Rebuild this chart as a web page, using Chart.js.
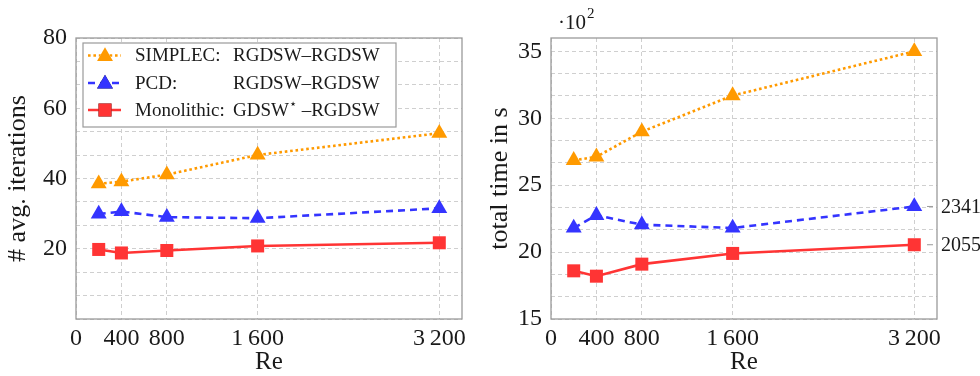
<!DOCTYPE html>
<html>
<head>
<meta charset="utf-8">
<script src="https://cdn.jsdelivr.net/npm/chart.js@4"></script>
<style>
  body { margin: 0; background: #fff; }
  .box { position: absolute; top: 0; width: 490px; height: 376px; }
</style>
</head>
<body>
<div class="box" style="left:0"><canvas id="iterChart" width="490" height="376"></canvas></div>
<div class="box" style="left:490px"><canvas id="timeChart" width="490" height="376"></canvas></div>
<script>
// Re values
const reValues = [200, 400, 800, 1600, 3200];
const xTicks = [0, 400, 800, 1600, 3200];
const xTickLabels = ["0", "400", "800", "1\u2009600", "3\u2009200"];

// average iterations
const simplecIter = [38.5, 39.1, 41.1, 46.7, 52.9];
const pcdIter = [29.9, 30.6, 29.0, 28.7, 31.5];
const monoIter = [19.8, 18.8, 19.5, 20.8, 21.7];

// total time in s
const simplecTime = [2686, 2712, 2900, 3170, 3500];
const pcdTime = [2180, 2275, 2205, 2180, 2341];
const monoTime = [1860, 1820, 1910, 1990, 2055];

const iterYLabels = [20, 40, 60, 80];
const timeYLabels = [15, 20, 25, 30, 35];   // in 10^2 s
const timeMarked = [2341, 2055];

const legendNames = ["SIMPLEC:", "PCD:", "Monolithic:"];
const legendSolvers = ["RGDSW\u2013RGDSW", "RGDSW\u2013RGDSW", "GDSW^\u22C6 \u2013RGDSW"];

const ORANGE = "#ff9a00";
const BLUE = "#3434ff";
const RED = "#ff3434";
const SERIF = "'Liberation Serif', 'DejaVu Serif', serif";

Chart.defaults.font.family = SERIF;
Chart.defaults.color = "#1a1a1a";

function makeDatasets(a, b, c) {
    return [
        { label: legendNames[0], data: a, borderColor: ORANGE, backgroundColor: ORANGE,
          borderDash: [2.6, 2.8], borderWidth: 2.6,
          pointStyle: "triangle", pointRadius: 9.2, pointBorderWidth: 0, pointBackgroundColor: ORANGE },
        { label: legendNames[1], data: b, borderColor: BLUE, backgroundColor: BLUE,
          borderDash: [7, 5], borderWidth: 2.6,
          pointStyle: "triangle", pointRadius: 9.2, pointBorderWidth: 0, pointBackgroundColor: BLUE },
        { label: legendNames[2], data: c, borderColor: RED, backgroundColor: RED,
          borderWidth: 2.6,
          pointStyle: "rect", pointRadius: 9.2, pointBorderWidth: 0, pointBackgroundColor: RED }
    ];
}

function gridTicks(min, max, step) {
    const out = [];
    for (let v = min; v <= max + 1e-9; v += step) out.push({ value: v });
    return out;
}

function labelFrom(list) {
    return (v) => {
        const hit = list.find(l => Math.abs(l - v) < 1e-6);
        return hit === undefined ? "" : String(hit);
    };
}

// frame around the plot area
const framePlugin = {
    id: "frame",
    beforeDatasetsDraw(chart) {
        const a = chart.chartArea;
        const ctx = chart.ctx;
        ctx.save();
        ctx.strokeStyle = "#9a9a9a";
        ctx.lineWidth = 1.3;
        ctx.strokeRect(a.left, a.top, a.right - a.left, a.bottom - a.top);
        ctx.restore();
    }
};

// draws text where "^x" means a raised small x
function drawRich(ctx, text, x, y, size) {
    const parts = text.split("^");
    ctx.font = size + "px " + SERIF;
    ctx.fillText(parts[0], x, y);
    x += ctx.measureText(parts[0]).width;
    if (parts.length > 1) {
        const sup = parts[1].charAt(0);
        ctx.font = Math.round(size * 0.7) + "px " + SERIF;
        ctx.fillText(sup, x, y - size * 0.35);
        x += ctx.measureText(sup).width;
        ctx.font = size + "px " + SERIF;
        ctx.fillText(parts[1].slice(1), x, y);
    }
}

const legendPlugin = {
    id: "boxLegend",
    afterDraw(chart) {
        const ctx = chart.ctx;
        ctx.save();
        ctx.fillStyle = "#fff";
        ctx.fillRect(83, 43, 313, 84);
        ctx.strokeStyle = "#9a9a9a";
        ctx.lineWidth = 1.2;
        ctx.strokeRect(83, 43, 313, 84);
        const rows = [55.5, 83, 110];
        chart.data.datasets.forEach((ds, i) => {
            const y = rows[i];
            ctx.save();
            ctx.strokeStyle = ds.borderColor;
            ctx.lineWidth = ds.borderWidth;
            ctx.setLineDash(ds.borderDash || []);
            ctx.beginPath();
            ctx.moveTo(88, y);
            ctx.lineTo(121, y);
            ctx.stroke();
            ctx.restore();
            Chart.helpers.drawPoint(ctx, {
                pointStyle: ds.pointStyle, radius: ds.pointRadius, borderWidth: 0, rotation: 0
            }, 105, y + (ds.pointStyle === "triangle" ? 1 : 0));
            ctx.fillStyle = ds.pointBackgroundColor;
            ctx.fill();
            ctx.fillStyle = "#1a1a1a";
            ctx.textBaseline = "middle";
            ctx.textAlign = "left";
            drawRich(ctx, legendNames[i], 135, y + 1, 19);
            drawRich(ctx, legendSolvers[i], 233, y + 1, 19);
        });
        ctx.restore();
    }
};

const timeNotesPlugin = {
    id: "timeNotes",
    afterDraw(chart) {
        const ctx = chart.ctx;
        const a = chart.chartArea;
        const ys = chart.scales.y;
        ctx.save();
        timeMarked.forEach(v => {
            const y = ys.getPixelForValue(v / 100);
            ctx.strokeStyle = "#9a9a9a";
            ctx.lineWidth = 1;
            ctx.beginPath();
            ctx.moveTo(a.right - 10, y);
            ctx.lineTo(a.right - 4, y);
            ctx.stroke();
            ctx.fillStyle = "#1a1a1a";
            ctx.font = "20px " + SERIF;
            ctx.textAlign = "left";
            ctx.textBaseline = "middle";
            ctx.fillText(String(v), a.right + 4, y + 1);
        });
        // exponent of the y axis
        ctx.textBaseline = "alphabetic";
        ctx.font = "21px " + SERIF;
        ctx.fillText("\u00B710", 68, 29);
        const w = ctx.measureText("\u00B710").width;
        ctx.font = "15px " + SERIF;
        ctx.fillText("2", 68 + w + 1, 18);
        ctx.restore();
    }
};

function xScale() {
    return {
        type: "linear", min: 0, max: 3400,
        afterBuildTicks: (s) => { s.ticks = xTicks.map(v => ({ value: v })); },
        afterFit: (s) => { s.height = 57; },
        ticks: {
            font: { size: 24 }, padding: 5, maxRotation: 0, autoSkip: false,
            callback: (v, i) => xTickLabels[i]
        },
        grid: { color: "#cfcfcf", lineWidth: 1, drawTicks: false },
        border: { display: false, dash: [4, 3] },
        title: { display: true, text: "Re", font: { size: 25, lineHeight: 1 }, padding: { top: 0, bottom: 1 } }
    };
}

function yScale(min, max, step, labels, width, titleText, titleLH) {
    return {
        type: "linear", min: min, max: max,
        afterBuildTicks: (s) => { s.ticks = gridTicks(min, max, step); },
        afterFit: (s) => { s.width = width; },
        ticks: { font: { size: 24 }, padding: 9, autoSkip: false, callback: labelFrom(labels) },
        grid: { color: "#cfcfcf", lineWidth: 1, drawTicks: false },
        border: { display: false, dash: [4, 3] },
        title: { display: true, text: titleText, font: { size: 26, lineHeight: titleLH }, padding: 0 }
    };
}

function buildChart(id, datasets, yOpts, padding, plugins) {
    return new Chart(document.getElementById(id).getContext("2d"), {
        type: "line",
        data: { datasets: datasets },
        options: {
            responsive: false,
            animation: false,
            devicePixelRatio: 1,
            parsing: false,
            layout: { padding: padding },
            plugins: { legend: { display: false }, tooltip: { enabled: false } },
            scales: { x: xScale(), y: yOpts }
        },
        plugins: plugins
    });
}

const toPoints = (ys) => ys.map((y, i) => ({ x: reValues[i], y: y }));

buildChart("iterChart",
    makeDatasets(toPoints(simplecIter), toPoints(pcdIter), toPoints(monoIter)),
    yScale(0, 80, 20 / 3, iterYLabels, 76, "# avg. iterations", 1.4),
    { top: 38, right: 28, left: 0, bottom: 0 },
    [framePlugin, legendPlugin]);

buildChart("timeChart",
    makeDatasets(toPoints(simplecTime.map(v => v / 100)), toPoints(pcdTime.map(v => v / 100)), toPoints(monoTime.map(v => v / 100))),
    yScale(15, 36, 5 / 3, timeYLabels, 61, "total time in s", 0.8),
    { top: 38, right: 43, left: 0, bottom: 0 },
    [framePlugin, timeNotesPlugin]);
</script>
</body>
</html>
